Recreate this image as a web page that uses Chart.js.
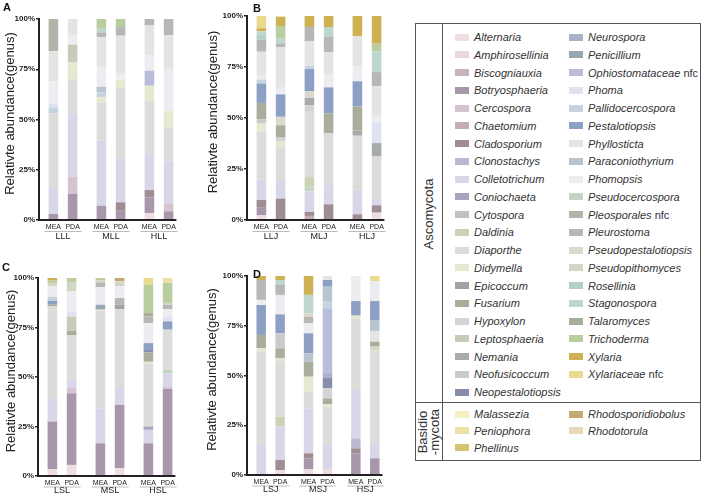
<!DOCTYPE html>
<html>
<head>
<meta charset="utf-8">
<script src="https://cdn.jsdelivr.net/npm/chart.js@4.4.1/dist/chart.umd.min.js"></script>
<style>
  body { margin: 0; width: 708px; height: 498px; background: #fff; position: relative; overflow: hidden;
         font-family: "Liberation Sans", Arial, sans-serif; }
  canvas { position: absolute; }
  .letter { position: absolute; font-weight: bold; font-size: 11px; color: #111; }
  #legend { position: absolute; left: 415px; top: 23px; width: 286px; height: 438px;
            border: 1px solid #555; box-sizing: border-box; color: #333; }
  #legend .vline { position: absolute; left: 26px; top: 0; bottom: 0; border-left: 1px solid #555; }
  #legend .hline { position: absolute; left: 0; right: 0; top: 378px; border-top: 1px solid #555; }
  #legend .item { position: absolute; height: 14px; line-height: 14px; font-size: 11px; white-space: nowrap; }
  #legend .item i { font-style: italic; }
  #legend .sw { position: absolute; width: 14px; height: 7px; }
  #legend .phylum { position: absolute; font-size: 13px; color: #333; transform: rotate(-90deg);
                    transform-origin: center center; text-align: center; white-space: nowrap; line-height: 12px; }
</style>
</head>
<body>
<canvas id="chartA" width="200" height="245" style="left:0;top:0"></canvas>
<canvas id="chartB" width="200" height="245" style="left:200px;top:0"></canvas>
<canvas id="chartC" width="200" height="253" style="left:0;top:245px"></canvas>
<canvas id="chartD" width="200" height="253" style="left:200px;top:245px"></canvas>
<div class="letter" style="left:3px;top:1px">A</div>
<div class="letter" style="left:253px;top:2px">B</div>
<div class="letter" style="left:2px;top:261px">C</div>
<div class="letter" style="left:253px;top:268px">D</div>
<div id="legend"><div class="vline"></div><div class="hline"></div></div>

<script>
// genus colours
const genusColors = {
  'Alternaria': '#efdde2', 'Amphirosellinia': '#e8d7e0', 'Biscogniauxia': '#c8b3bd', 'Botryosphaeria': '#a896aa',
  'Cercospora': '#d5c3d0', 'Chaetomium': '#c4acb8', 'Cladosporium': '#a08d93', 'Clonostachys': '#bcb8cf',
  'Colletotrichum': '#d8d6e8', 'Coniochaeta': '#a8a4c0', 'Cytospora': '#bcc4bd', 'Daldinia': '#ccd2b6',
  'Diaporthe': '#dcdcdb', 'Didymella': '#e6e8d0', 'Epicoccum': '#a3a3a5', 'Fusarium': '#a9ad9c',
  'Hypoxylon': '#d4d4d6', 'Leptosphaeria': '#c8cbb9', 'Nemania': '#a7acab', 'Neofusicoccum': '#cacaca',
  'Neopestalotiopsis': '#878ca8', 'Neurospora': '#a9b1c6', 'Penicillium': '#98a8b3', 'Ophiostomataceae nfc': '#babcdc',
  'Phoma': '#dfe3f1', 'Pallidocercospora': '#c5d3e0', 'Pestalotiopsis': '#8ca0c4', 'Phyllosticta': '#e4e5e3',
  'Paraconiothyrium': '#bac4cf', 'Phomopsis': '#ececf1', 'Pseudocercospora': '#c3d4c6', 'Pleosporales nfc': '#b2b4aa',
  'Pleurostoma': '#b7b8b6', 'Pseudopestalotiopsis': '#dad9cc', 'Pseudopithomyces': '#d3d8c6', 'Rosellinia': '#b6cfc8',
  'Stagonospora': '#bcd8cd', 'Talaromyces': '#a6ae99', 'Trichoderma': '#b9cd9f', 'Xylaria': '#cfb155',
  'Xylariaceae nfc': '#e9db8e', 'Malassezia': '#f4f0c4', 'Peniophora': '#ebe1a6', 'Phellinus': '#d5c46f',
  'Rhodosporidiobolus': '#c6aa73', 'Rhodotorula': '#e8dab8'
};

// legend columns
const ascoLeft = ['Alternaria', 'Amphirosellinia', 'Biscogniauxia', 'Botryosphaeria', 'Cercospora', 'Chaetomium',
  'Cladosporium', 'Clonostachys', 'Colletotrichum', 'Coniochaeta', 'Cytospora', 'Daldinia', 'Diaporthe', 'Didymella',
  'Epicoccum', 'Fusarium', 'Hypoxylon', 'Leptosphaeria', 'Nemania', 'Neofusicoccum', 'Neopestalotiopsis'];
const ascoRight = ['Neurospora', 'Penicillium', 'Ophiostomataceae nfc', 'Phoma', 'Pallidocercospora', 'Pestalotiopsis',
  'Phyllosticta', 'Paraconiothyrium', 'Phomopsis', 'Pseudocercospora', 'Pleosporales nfc', 'Pleurostoma',
  'Pseudopestalotiopsis', 'Pseudopithomyces', 'Rosellinia', 'Stagonospora', 'Talaromyces', 'Trichoderma',
  'Xylaria', 'Xylariaceae nfc'];
const basidioLeft = ['Malassezia', 'Peniophora', 'Phellinus'];
const basidioRight = ['Rhodosporidiobolus', 'Rhodotorula'];

// panel A
const groupsA = ['LLL', 'MLL', 'HLL'];
const meaA = [
  [['Botryosphaeria', 3], ['Colletotrichum', 13], ['Diaporthe', 37], ['Pallidocercospora', 3], ['Phoma', 2],
   ['Phomopsis', 11], ['Phyllosticta', 15], ['Pleosporales nfc', 16]],
  [['Botryosphaeria', 7.1], ['Colletotrichum', 32.4], ['Diaporthe', 19], ['Didymella', 2.5], ['Pallidocercospora', 2.5],
   ['Paraconiothyrium', 2.8], ['Phomopsis', 9.7], ['Phyllosticta', 15], ['Pleurostoma', 2.4], ['Stagonospora', 2.1],
   ['Trichoderma', 4.5]],
  [['Alternaria', 3.5], ['Botryosphaeria', 7.8], ['Cladosporium', 3.6], ['Colletotrichum', 17.9], ['Diaporthe', 26.2],
   ['Didymella', 7.8], ['Ophiostomataceae nfc', 7.5], ['Phomopsis', 7.5], ['Phyllosticta', 15], ['Pleurostoma', 3.2]]
];
const pdaA = [
  [['Botryosphaeria', 13], ['Cercospora', 8.7], ['Colletotrichum', 31], ['Diaporthe', 17.3], ['Didymella', 8.4],
   ['Leptosphaeria', 8.8], ['Phomopsis', 4.5], ['Phyllosticta', 8.3]],
  [['Botryosphaeria', 4.6], ['Cladosporium', 4.2], ['Colletotrichum', 21.9], ['Diaporthe', 35], ['Didymella', 4],
   ['Phomopsis', 3], ['Phyllosticta', 19], ['Pleurostoma', 4.3], ['Trichoderma', 4]],
  [['Botryosphaeria', 4.3], ['Cercospora', 4], ['Colletotrichum', 21.2], ['Diaporthe', 16.6], ['Didymella', 8.3],
   ['Phomopsis', 20.6], ['Phyllosticta', 17], ['Pleurostoma', 8]]
];

// panel B
const groupsB = ['LLJ', 'MLJ', 'HLJ'];
const meaB = [
  [['Alternaria', 2.3], ['Botryosphaeria', 3.7], ['Cladosporium', 3.8], ['Colletotrichum', 10], ['Diaporthe', 23.6],
   ['Didymella', 4], ['Neofusicoccum', 2], ['Fusarium', 8], ['Pestalotiopsis', 9.5], ['Pallidocercospora', 2],
   ['Phomopsis', 1.8], ['Phyllosticta', 11.8], ['Pleurostoma', 6], ['Rosellinia', 2.5], ['Stagonospora', 1.5],
   ['Xylaria', 1.5], ['Xylariaceae nfc', 6]],
  [['Chaetomium', 2], ['Cladosporium', 2], ['Colletotrichum', 10], ['Pseudocercospora', 2], ['Daldinia', 5],
   ['Diaporthe', 32], ['Hypoxylon', 3.3], ['Nemania', 3.6], ['Pseudopestalotiopsis', 3.3], ['Pestalotiopsis', 10.8],
   ['Pallidocercospora', 1.6], ['Phyllosticta', 12], ['Pleurostoma', 7], ['Xylaria', 5.4]],
  [['Cladosporium', 2.8], ['Colletotrichum', 12], ['Diaporthe', 26.5], ['Nemania', 2.5], ['Fusarium', 11.9],
   ['Pestalotiopsis', 12.3], ['Phomopsis', 7.4], ['Phyllosticta', 14.8], ['Xylaria', 9.8]]
];
const pdaB = [
  [['Cladosporium', 10.5], ['Colletotrichum', 8.7], ['Diaporthe', 16.7], ['Didymella', 2.5], ['Hypoxylon', 2],
   ['Fusarium', 6], ['Pseudopestalotiopsis', 4.2], ['Pestalotiopsis', 11], ['Phomopsis', 3.2], ['Phyllosticta', 19.8],
   ['Pleurostoma', 2], ['Stagonospora', 2.3], ['Trichoderma', 6.2], ['Xylaria', 4.6]],
  [['Cladosporium', 7.7], ['Colletotrichum', 9.5], ['Diaporthe', 25.4], ['Fusarium', 9.7], ['Pestalotiopsis', 12.7],
   ['Phomopsis', 6.6], ['Phyllosticta', 10.7], ['Pleurostoma', 7.4], ['Stagonospora', 4.9], ['Xylaria', 5.4]],
  [['Alternaria', 3.6], ['Cladosporium', 3.6], ['Colletotrichum', 3], ['Diaporthe', 20.9], ['Nemania', 6.6],
   ['Phoma', 10.2], ['Phomopsis', 3.2], ['Phyllosticta', 14.5], ['Pleurostoma', 6.9], ['Stagonospora', 10.1],
   ['Trichoderma', 3.8], ['Xylaria', 13.6]]
];

// panel C
const groupsC = ['LSL', 'MSL', 'HSL'];
const meaC = [
  [['Alternaria', 3.5], ['Botryosphaeria', 24], ['Colletotrichum', 11.8], ['Diaporthe', 46.4], ['Fusarium', 1.1],
   ['Pestalotiopsis', 1.7], ['Pallidocercospora', 1.9], ['Phomopsis', 5.4], ['Pseudopithomyces', 1.7],
   ['Trichoderma', 1.2], ['Xylaria', 1.3]],
  [['Botryosphaeria', 16.5], ['Colletotrichum', 17.7], ['Diaporthe', 49.3], ['Didymella', 0.5], ['Penicillium', 2.5],
   ['Phomopsis', 8.8], ['Pleurostoma', 2.5], ['Pseudopithomyces', 0.9], ['Trichoderma', 1.3]],
  [['Botryosphaeria', 16.5], ['Colletotrichum', 6.8], ['Coniochaeta', 1.7], ['Diaporthe', 31.8], ['Didymella', 0.9],
   ['Fusarium', 4.7], ['Neopestalotiopsis', 1.2], ['Pestalotiopsis', 3.5], ['Phomopsis', 10.1], ['Pleurostoma', 3.4],
   ['Talaromyces', 1.7], ['Trichoderma', 14.3], ['Xylariaceae nfc', 3.4]]
];
const pdaC = [
  [['Alternaria', 5.6], ['Botryosphaeria', 36.2], ['Cercospora', 2.6], ['Colletotrichum', 4.2], ['Diaporthe', 22.4],
   ['Fusarium', 2.4], ['Leptosphaeria', 7.2], ['Phoma', 2.5], ['Phomopsis', 10.2], ['Pseudopithomyces', 4.7],
   ['Trichoderma', 2]],
  [['Alternaria', 3.9], ['Botryosphaeria', 32], ['Colletotrichum', 8.5], ['Diaporthe', 39.9], ['Epicoccum', 2.2],
   ['Pleurostoma', 3.4], ['Phomopsis', 5.9], ['Pseudopithomyces', 2.5], ['Rhodosporidiobolus', 1.7]],
  [['Botryosphaeria', 44], ['Cercospora', 1.2], ['Colletotrichum', 6.7], ['Pseudocercospora', 1.7], ['Diaporthe', 20.3],
   ['Pestalotiopsis', 4.2], ['Phoma', 2.5], ['Phomopsis', 3.7], ['Pleurostoma', 2.2], ['Pseudopithomyces', 0.9],
   ['Trichoderma', 10.1], ['Peniophora', 2.5]]
];

// panel D
const groupsD = ['LSJ', 'MSJ', 'HSJ'];
const meaD = [
  [['Colletotrichum', 15.1], ['Diaporthe', 46.9], ['Didymella', 1.7], ['Fusarium', 6.7], ['Pestalotiopsis', 15],
   ['Phomopsis', 2.6], ['Pleurostoma', 10], ['Xylaria', 2]],
  [['Alternaria', 2.8], ['Botryosphaeria', 5.6], ['Cladosporium', 2.5], ['Colletotrichum', 22.6], ['Diaporthe', 8.4],
   ['Didymella', 7.5], ['Fusarium', 7.5], ['Paraconiothyrium', 4.2], ['Pestalotiopsis', 10.1], ['Phomopsis', 5],
   ['Pleurostoma', 3.4], ['Pseudopestalotiopsis', 1.6], ['Stagonospora', 9.3], ['Xylaria', 9.5]],
  [['Botryosphaeria', 10.9], ['Cladosporium', 2.5], ['Clonostachys', 5], ['Colletotrichum', 24.3], ['Diaporthe', 35.7],
   ['Didymella', 1.7], ['Pestalotiopsis', 7.3], ['Phomopsis', 12.6]]
];
const pdaD = [
  [['Alternaria', 2.5], ['Cladosporium', 5], ['Colletotrichum', 16.8], ['Daldinia', 5], ['Diaporthe', 28],
   ['Didymella', 1.3], ['Fusarium', 5.1], ['Neofusicoccum', 7.5], ['Pestalotiopsis', 9.5], ['Phomopsis', 9.8],
   ['Pleurostoma', 5.3], ['Stagonospora', 2.2], ['Xylaria', 2]],
  [['Alternaria', 3], ['Colletotrichum', 12.1], ['Diaporthe', 19.2], ['Didymella', 1.2], ['Fusarium', 3],
   ['Hypoxylon', 5.1], ['Neopestalotiopsis', 5.1], ['Neurospora', 2.5], ['Ophiostomataceae nfc', 32.6],
   ['Pallidocercospora', 3.6], ['Paraconiothyrium', 7.2], ['Pestalotiopsis', 3.4], ['Phyllosticta', 2]],
  [['Botryosphaeria', 8.4], ['Colletotrichum', 7.5], ['Diaporthe', 46.6], ['Pseudopithomyces', 2], ['Fusarium', 2.5],
   ['Phyllosticta', 5.4], ['Paraconiothyrium', 5.5], ['Pestalotiopsis', 9.5], ['Phomopsis', 10.1],
   ['Xylariaceae nfc', 2.5]]
];

const yTicks = [0, 25, 50, 75, 100];
const FONT = '"Liberation Sans", Arial, sans-serif';

// MEA / PDA labels, group labels, the x baseline and the y title
const xLabels = {
  id: 'xLabels',
  afterDraw(chart, args, opts) {
    const { ctx, chartArea } = chart;
    const sets = chart.data.datasets;
    const mea = chart.getDatasetMeta(sets.findIndex(d => d.stack === 'MEA'));
    const pda = chart.getDatasetMeta(sets.findIndex(d => d.stack === 'PDA'));
    const b = chartArea.bottom;
    ctx.save();
    ctx.fillStyle = '#222';
    ctx.textAlign = 'center';
    ctx.textBaseline = 'middle';
    chart.data.labels.forEach((lab, g) => {
      const mx = mea.data[g].x, px = pda.data[g].x;
      ctx.font = '7px ' + FONT;
      ctx.fillText('MEA', mx, b + opts.sub);
      ctx.fillText('PDA', px, b + opts.sub);
      ctx.strokeStyle = '#bbb';
      ctx.lineWidth = 1;
      ctx.beginPath();
      ctx.moveTo(mx - 9, b + opts.line + 0.5);
      ctx.lineTo(px + 9, b + opts.line + 0.5);
      ctx.stroke();
      ctx.font = '9px ' + FONT;
      ctx.fillText(lab, (mx + px) / 2, b + opts.group);
    });
    const last = pda.data[pda.data.length - 1];
    ctx.strokeStyle = '#222';
    ctx.lineWidth = 2;
    ctx.beginPath();
    ctx.moveTo(chartArea.left - 1, b);
    ctx.lineTo(last.x + last.width / 2 + 3, b);
    ctx.stroke();

    // y title, a little above the plot centre as in the original
    ctx.translate(opts.titleX, (chartArea.top + chartArea.bottom) / 2 - 6);
    ctx.rotate(-Math.PI / 2);
    ctx.font = '13px ' + FONT;
    ctx.fillText('Relativte abundance(genus)', 0, 0);
    ctx.restore();
  }
};

function buildSets(bars, stack) {
  const n = Math.max(...bars.map(b => b.length));
  const sets = [];
  for (let k = 0; k < n; k++) {
    sets.push({
      stack: stack,
      data: bars.map(b => (b[k] ? b[k][1] : null)),
      backgroundColor: bars.map(b => (b[k] ? genusColors[b[k][0]] : 'rgba(0,0,0,0)')),
      borderWidth: 0,
      categoryPercentage: 0.8,
      barPercentage: 0.5
    });
  }
  return sets;
}

function makePanel(id, groups, mea, pda, g) {
  new Chart(document.getElementById(id), {
    type: 'bar',
    data: { labels: groups, datasets: buildSets(mea, 'MEA').concat(buildSets(pda, 'PDA')) },
    plugins: [xLabels],
    options: {
      responsive: false,
      animation: false,
      layout: { padding: { top: g.top, bottom: g.bottom, left: 0, right: g.right } },
      plugins: { legend: { display: false }, tooltip: { enabled: false }, xLabels: g.labels },
      scales: {
        x: {
          stacked: true,
          grid: { display: false },
          border: { display: false },
          ticks: { display: false },
          afterFit: s => { s.height = 0; }
        },
        y: {
          stacked: true,
          min: 0,
          max: 100,
          afterBuildTicks: s => { s.ticks = yTicks.map(v => ({ value: v })); },
          ticks: { callback: v => v + '%', color: '#222', padding: 1, font: { size: 8, weight: 'bold', family: FONT } },
          grid: { drawOnChartArea: false, tickLength: 3, color: '#222', lineWidth: 1.5 },
          border: { color: '#222', width: 2 },
          title: { display: false },
          afterFit: s => { s.width = g.axisW; }
        }
      }
    }
  });
}

const topLabels = { sub: 7, line: 11, group: 17 };
const bottomLabels = { sub: 7, line: 10.5, group: 15 };
makePanel('chartA', groupsA, meaA, pdaA, { axisW: 39, top: 19, bottom: 25, right: 17, labels: Object.assign({ titleX: 10 }, topLabels) });
makePanel('chartB', groupsB, meaB, pdaB, { axisW: 47, top: 16, bottom: 25, right: 9, labels: Object.assign({ titleX: 13 }, topLabels) });
makePanel('chartC', groupsC, meaC, pdaC, { axisW: 38, top: 33, bottom: 22, right: 18, labels: Object.assign({ titleX: 11 }, bottomLabels) });
makePanel('chartD', groupsD, meaD, pdaD, { axisW: 47, top: 31, bottom: 23, right: 11, labels: Object.assign({ titleX: 12 }, bottomLabels) });

// legend
const legend = document.getElementById('legend');
function addItem(name, left, cy) {
  const sw = document.createElement('div');
  sw.className = 'sw';
  sw.style.left = left + 'px';
  sw.style.top = (cy - 3.5) + 'px';
  sw.style.background = genusColors[name];
  legend.appendChild(sw);
  const it = document.createElement('div');
  it.className = 'item';
  it.style.left = (left + 19) + 'px';
  it.style.top = (cy - 7) + 'px';
  const parts = name.split(' ');
  it.innerHTML = '<i>' + parts[0] + '</i>' + (parts[1] ? ' ' + parts[1] : '');
  legend.appendChild(it);
}
ascoLeft.forEach((n, i) => addItem(n, 39, 13 + i * 17.75));
ascoRight.forEach((n, i) => addItem(n, 153, 13 + i * 17.75));
basidioLeft.forEach((n, i) => addItem(n, 39, 390 + i * 16.8));
basidioRight.forEach((n, i) => addItem(n, 153, 390 + i * 16.8));

function addPhylum(html, cy, w) {
  const d = document.createElement('div');
  d.className = 'phylum';
  d.style.width = w + 'px';
  d.style.left = (13 - w / 2) + 'px';
  d.style.top = (cy - 12) + 'px';
  d.style.height = '24px';
  d.style.lineHeight = '12px';
  d.style.paddingTop = html.indexOf('<br>') < 0 ? '6px' : '0';
  d.style.boxSizing = 'border-box';
  d.innerHTML = html;
  legend.appendChild(d);
}
addPhylum('Ascomycota', 190, 100);
addPhylum('Basidio<br>-mycota', 408, 60);
</script>
</body>
</html>
